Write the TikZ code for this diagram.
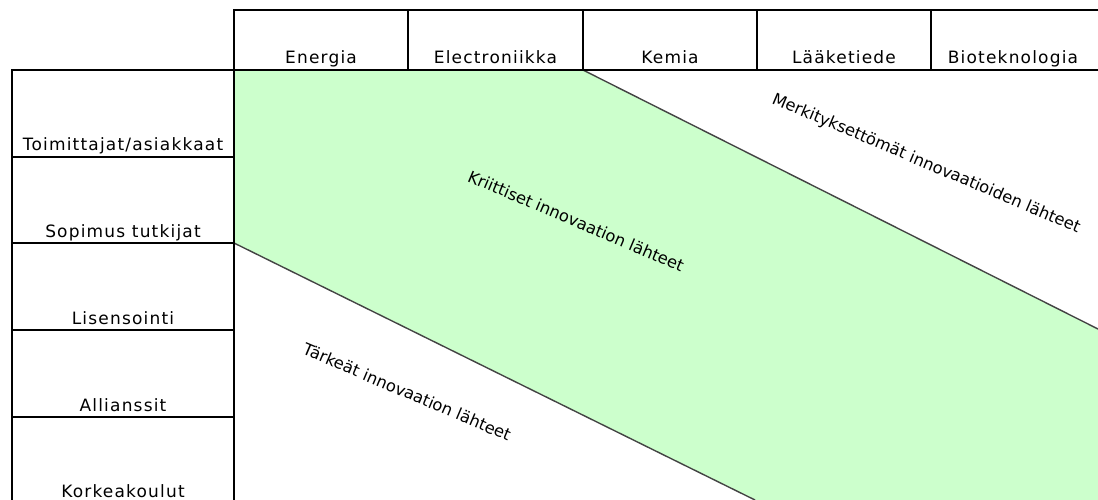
\documentclass[tikz,border=0pt]{standalone}
\usepackage{fontspec}
\setmainfont{DejaVu Sans}
\newfontfamily\hdrfont[LetterSpace=7]{DejaVu Sans}
\definecolor{zonegreen}{HTML}{CCFFCC}
\definecolor{diagline}{HTML}{444444}
\begin{document}
\begin{tikzpicture}[x=1pt,y=-1pt,
  thickline/.style={line width=2.6pt,black},
  thinline/.style={line width=1.1pt,black},
  diag/.style={line width=1.4pt,diagline},
  hdr/.style={anchor=base,inner sep=0pt,font=\hdrfont\fontsize{17}{19}\selectfont},
  zonelabel/.style={inner sep=0pt,rotate=-23,font=\fontsize{16.3}{18}\selectfont}]
\useasboundingbox (0,0) rectangle (1098,500);
% corner coordinates
\coordinate (gtl) at (234,70);
\coordinate (gtr) at (583,70);
\coordinate (gre) at (1098,329);
\coordinate (gbr) at (1098,500);
\coordinate (gbb) at (755,500);
\coordinate (gbl) at (234,243);
% green zone
\fill[zonegreen] (gtl) -- (gtr) -- (gre) -- (gbr) -- (gbb) -- (gbl) -- cycle;
\draw[diag] (gtr) -- (gre);
\draw[diag] (gbl) -- (gbb);
% header grid
\foreach \x in {408,583,757,931} \draw[thinline] (\x,10) -- (\x,70);
% row grid
\foreach \y in {157,243,330,417} \draw[thinline] (12,\y) -- (234,\y);
% thick borders
\draw[thickline] (1098,10) -- (234,10) -- (234,500);
\draw[thickline] (12,500) -- (12,70) -- (1098,70);
% header labels
\node[hdr] (energia) at (321,64) {Energia};
\node[hdr] (elec) at (495.5,64) {Electroniikka};
\node[hdr] (kemia) at (670,64) {Kemia};
\node[hdr] (laake) at (844,64) {Lääketiede};
\node[hdr] (bio) at (1013,64) {Bioteknologia};
% row labels
\node[hdr] (toim) at (123,151) {Toimittajat/asiakkaat};
\node[hdr] (sopi) at (123,237) {Sopimus tutkijat};
\node[hdr] (lise) at (123,324) {Lisensointi};
\node[hdr] (alli) at (123,411) {Allianssit};
\node[hdr] (kork) at (123,497) {Korkeakoulut};
% zone labels
\node[zonelabel] (krit) at (576,221) {Kriittiset innovaation lähteet};
\node[zonelabel] (merk) at (926,164) {Merkityksettömät innovaatioiden lähteet};
\node[zonelabel] (tark) at (407,392) {Tärkeät innovaation lähteet};
\end{tikzpicture}
\end{document}
